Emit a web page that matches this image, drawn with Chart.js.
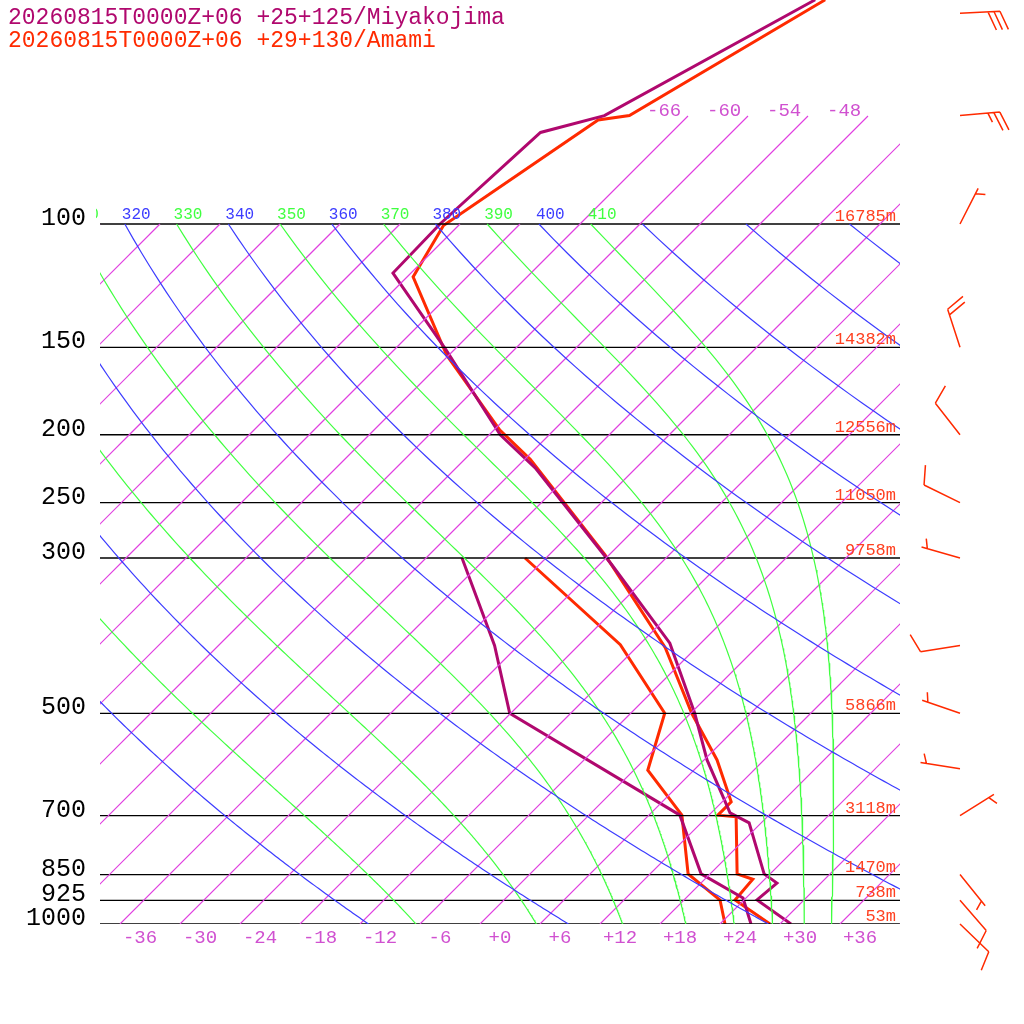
<!DOCTYPE html>
<html><head><meta charset="utf-8">
<script src="https://cdn.jsdelivr.net/npm/chart.js@4.4.0/dist/chart.umd.min.js"></script>
<style>html,body{margin:0;padding:0;background:#fff}#w{width:1024px;height:1024px}</style>
</head><body><div id="w"><canvas id="c" width="1024" height="1024"></canvas></div>
<script>
// ---- data ----
const stationNames = ["20260815T0000Z+06 +25+125/Miyakojima", "20260815T0000Z+06 +29+130/Amami"];
const miyakoP  = [1000, 924, 874, 848, 717, 694, 583, 500, 397, 307, 223, 200, 151, 117.5, 100, 74, 70, 47.83];
const miyakoT  = [29.1, 23.3, 23.6, 21.4, 14.8, 11.9, 4.3, -1.6, -11.1, -24.7, -42.1, -48.9, -62.9, -75.8, -76, -75.1, -70.4, -60.9];
const miyakoDP = [1000, 918, 848, 699, 500, 400, 300];
const miyakoTd = [25.1, 21.7, 15.1, 7.1, -20.1, -28.4, -40.4];
const amamiP   = [1000, 924, 863, 848, 703, 699, 669, 583, 500, 403, 297, 217, 197, 154, 119, 100.5, 71, 70, 47.83];
const amamiT   = [27, 21.1, 20.8, 18.7, 12.9, 10.9, 10.9, 5.3, -1.9, -11.1, -26.4, -43.4, -49.4, -62.2, -73.4, -75.5, -70.6, -67.9, -59.9];
const amamiDP  = [1000, 924, 848, 699, 603, 500, 399, 300];
const amamiTd  = [22.5, 19.6, 13.8, 7.3, -0.6, -4.6, -15.9, -34.1];
const levels   = [100, 150, 200, 250, 300, 500, 700, 850, 925, 1000];
const heights  = ["16785m", "14382m", "12556m", "11050m", "9758m", "5866m", "3118m", "1470m", "738m", "53m"];
const tempTicks = [-36, -30, -24, -18, -12, -6, 0, 6, 12, 18, 24, 30, 36];
const windP    = [50, 70, 100, 150, 200, 250, 300, 400, 500, 600, 700, 850, 925, 1000];
const windDir  = [87, 85, 27, 342, 322, 296, 286, 261, 289, 279, 58, 141, 139, 134];
const windKt   = [30, 25, 5, 20, 10, 10, 5, 10, 5, 5, 5, 5, 10, 10];
const isoLabels = [-66, -60, -54, -48];
const thetaLabels = [310, 320, 330, 340, 350, 360, 370, 380, 390, 400, 410];

// ---- geometry helpers ----
const PTOP = 1000 * Math.exp(-924 / 304);
const PISO = 1000 * Math.exp(-(924 - 116) / 304);
const SKEW = 30.4;
const sx = (T, p) => T + SKEW * Math.log(1000 / p);
const pts = (P, T) => P.map((p, i) => ({x: sx(T[i], p), y: p}));
const ds = [];
const line = (data, color, w) => ds.push({data: data, borderColor: color, backgroundColor: color, borderWidth: w, pointRadius: 0, fill: false, tension: 0, clip: 0, segment: {borderColor: () => color}});

const ISO = '#e040e0', DRY = '#3c3cff', MOIST = '#40ff40';
// dry adiabats
const pGrid = []; for (let p = 100; p < 1000; p += 5) pGrid.push(p); pGrid.push(1000);
const dryX = {};
for (let th = 260; th <= 520; th += 20) {
  line(pGrid.map(p => ({x: sx(th * Math.pow(p / 1000, 0.286) - 273.15, p), y: p})), DRY, 1.2);
  dryX[th] = sx(th * Math.pow(0.1, 0.286) - 273.15, 100);
}
// moist adiabats
const moistX = {};
function esat(Tc){ return 6.112 * Math.exp(17.67 * Tc / (Tc + 243.5)); }
for (let th = 270; th <= 410; th += 20) {
  let p = 100, T = th * Math.pow(p / 1000, 0.286);
  moistX[th] = sx(T - 273.15, 100);
  const arr = [];
  let n = 0;
  while (p < 1000) {
    if (n % 4 === 0) arr.push({x: sx(T - 273.15, p), y: p});
    const es = esat(T - 273.15), rs = 0.622 * es / (p - es);
    const dTdp = (287 * T + 2.5e6 * rs) / (p * (1005 + 2.5e6 * 2.5e6 * rs * 0.622 / (287 * T * T)));
    const dp = Math.min(1, 1000 - p);
    T += dTdp * dp; p += dp; n++;
  }
  arr.push({x: sx(T - 273.15, 1000), y: 1000});
  line(arr, MOIST, 1.2);
}
// isotherms
for (let T = -140; T <= 40; T += 6) {
  const a = [];
  const ps = T >= -66 ? [1000, 700, 500, 300, 200, 100, PISO] : [1000, 700, 500, 300, 200, 100];
  ps.forEach(p => a.push({x: sx(T, p), y: p}));
  line(a, ISO, 1.2);
}
// isobars
levels.forEach(p => line([{x: -40, y: p}, {x: 40, y: p}], '#000', 1.3));
// soundings
line(pts(miyakoDP, miyakoTd), '#b0086e', 3);
line(pts(amamiDP, amamiTd), '#ff2a00', 3);
line(pts(miyakoP, miyakoT), '#b0086e', 3);
line(pts(amamiP, amamiT), '#ff2a00', 3);

const F = '"Liberation Mono", "DejaVu Sans Mono", monospace';
const textPlugin = {
  id: 'txt',
  afterDraw(chart) {
    const c = chart.ctx, xs = chart.scales.x, ys = chart.scales.y;
    c.save();
    c.textBaseline = 'alphabetic';
    c.font = '23px ' + F;
    c.fillStyle = '#b0086e'; c.fillText(stationNames[0], 8, 24);
    c.fillStyle = '#ff2a00'; c.fillText(stationNames[1], 8, 47);
    c.font = '25px ' + F; c.fillStyle = '#000'; c.textAlign = 'right';
    levels.forEach(p => c.fillText(String(p), 86, ys.getPixelForValue(p) + 1));
    c.font = '17px ' + F; c.fillStyle = '#ff4020';
    levels.forEach((p, i) => c.fillText(heights[i], 896, ys.getPixelForValue(p) - 3));
    c.font = '19px ' + F; c.fillStyle = '#d050d0'; c.textAlign = 'center';
    tempTicks.forEach(t => c.fillText((t >= 0 ? '+' : '') + t, xs.getPixelForValue(t), 943));
    c.font = '19px ' + F; c.textAlign = 'left';
    isoLabels.forEach(t => c.fillText(String(t), xs.getPixelForValue(sx(t, PISO)) - 1, 116));
    c.font = '16px ' + F;
    c.beginPath(); c.rect(96, 190, 820, 40); c.clip();
    thetaLabels.forEach(th => {
      const moist = (th / 10) % 2 === 1;
      const xv = moist ? moistX[th] : dryX[th];
      if (xv === undefined) return;
      c.fillStyle = moist ? MOIST : DRY;
      c.fillText(String(th), xs.getPixelForValue(xv) - 3, 219);
    });
    c.restore();
    // wind barbs
    c.save(); c.strokeStyle = '#ff2a00'; c.lineWidth = 1.5;
    windP.forEach((p, i) => {
      const bx = 960, by = ys.getPixelForValue(p);
      const a = windDir[i] * Math.PI / 180;
      const ux = Math.sin(a), uy = -Math.cos(a);
      const tx = bx + 40 * ux, ty = by + 40 * uy;
      c.beginPath(); c.moveTo(bx, by); c.lineTo(tx, ty);
      const ang = Math.atan2(uy, ux) + 68 * Math.PI / 180;
      const dx = Math.cos(ang), dy = Math.sin(ang);
      let kt = windKt[i], k = 0;
      while (kt >= 10) { const px = tx - ux * 6 * k, py = ty - uy * 6 * k; c.moveTo(px, py); c.lineTo(px + 20 * dx, py + 20 * dy); kt -= 10; k++; }
      if (kt >= 5) { if (k === 0) k = 1; const px = tx - ux * 6 * k, py = ty - uy * 6 * k; c.moveTo(px, py); c.lineTo(px + 10 * dx, py + 10 * dy); }
      c.stroke();
    });
    c.restore();
  }
};

new Chart(document.getElementById('c'), {
  type: 'line',
  data: {datasets: ds},
  options: {
    responsive: false, animation: false,
    layout: {padding: {left: 100, right: 124, top: 0, bottom: 100}},
    plugins: {legend: {display: false}, tooltip: {enabled: false}},
    scales: {
      x: {type: 'linear', min: -40, max: 40, display: false},
      y: {type: 'logarithmic', min: PTOP, max: 1000, reverse: true, display: false}
    }
  },
  plugins: [textPlugin]
});
</script></body></html>
